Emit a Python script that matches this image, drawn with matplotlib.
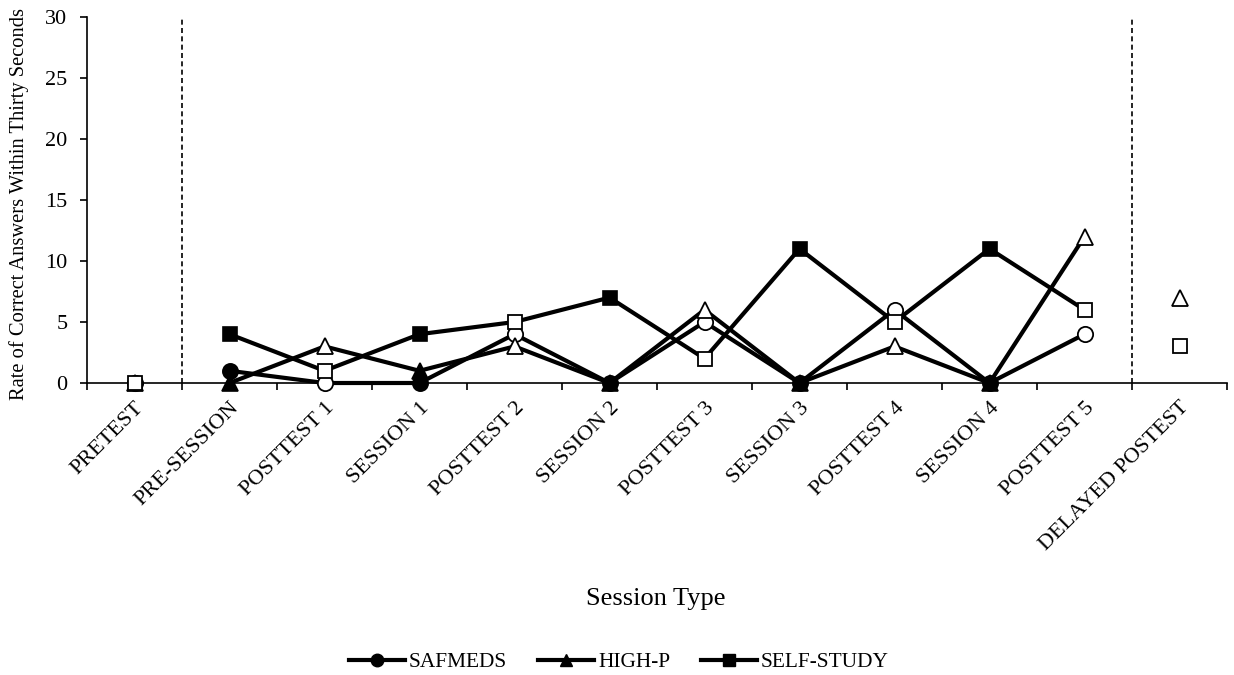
import numpy as np
import matplotlib.pyplot as plt
from matplotlib.lines import Line2D

plt.rcParams['font.family'] = ['Liberation Serif', 'DejaVu Serif']

categories = ["PRETEST", "PRE-SESSION", "POSTTEST 1", "SESSION 1", "POSTTEST 2",
              "SESSION 2", "POSTTEST 3", "SESSION 3", "POSTTEST 4", "SESSION 4",
              "POSTTEST 5", "DELAYED POSTEST"]
safmeds = [0, 1, 0, 0, 4, 0, 5, 0, 6, 0, 4, np.nan]
high_p = [0, 0, 3, 1, 3, 0, 6, 0, 3, 0, 12, 7]
self_study = [0, 4, 1, 4, 5, 7, 2, 11, 5, 11, 6, 3]
# filled marker = training session, open marker = test
is_session = [False, True, False, True, False, True, False, True, False, True, False, False]
phase_start, phase_end = 1, 10   # connected phase (between the dashed lines)
series_names = ["SAFMEDS", "HIGH-P", "SELF-STUDY"]

series = [safmeds, high_p, self_study]
markers = ['o', '^', 's']
msizes = [11, 11, 10.5]

W, H = 1234, 675
fig = plt.figure(figsize=(W / 100, H / 100), dpi=100)
ax = fig.add_axes([87 / W, 1 - 383 / H, (1227 - 87) / W, (383 - 17) / H])

x = np.arange(len(categories))
sess = np.array(is_session)
for vals, m, ms in zip(series, markers, msizes):
    v = np.array(vals, dtype=float)
    seg = slice(phase_start, phase_end + 1)
    ax.plot(x[seg], v[seg], color='black', lw=3, zorder=3, clip_on=False)
    ax.plot(x[sess], v[sess], ls='none', marker=m, ms=ms, mfc='black', mec='black',
            mew=1.2, zorder=4, clip_on=False)
    ax.plot(x[~sess], v[~sess], ls='none', marker=m, ms=ms, mfc='white', mec='black',
            mew=1.3, zorder=4, clip_on=False)

for xv in [phase_start - 0.5, phase_end + 0.5]:
    ax.plot([xv, xv], [0, 30], color='black', lw=1.2, ls=(0, (3, 2)), zorder=2)

ax.set_xlim(-0.5, len(categories) - 0.5)
ax.set_ylim(0, 30)
ax.set_yticks(np.arange(0, 31, 5))
ax.set_xticks(x)
ax.set_xticklabels(categories, rotation=45, ha='right', rotation_mode='anchor')
ax.set_xticks(np.arange(-0.5, len(categories), 1), minor=True)
ax.tick_params(axis='x', which='major', length=0, pad=11, labelsize=16)
ax.tick_params(axis='x', which='minor', length=5, width=1.2, direction='out')
ax.tick_params(axis='y', length=5, width=1.2, direction='out', labelsize=16, pad=9)
for s in ['top', 'right']:
    ax.spines[s].set_visible(False)
for s in ['left', 'bottom']:
    ax.spines[s].set_linewidth(1.2)

fig.text(19 / W, 1 - 204 / H, "Rate of Correct Answers Within Thirty Seconds",
         rotation=90, ha='center', va='center', fontsize=14.8)
fig.text(656 / W, 1 - 599 / H, "Session Type", ha='center', va='center', fontsize=19)

handles = [Line2D([], [], color='black', lw=3, marker=m, ms=9, mfc='black', mec='black')
           for m in markers]
fig.legend(handles, series_names, loc='center', bbox_to_anchor=(619 / W, 1 - 662 / H),
           ncol=3, frameon=False, fontsize=15.4, handlelength=2.6, handletextpad=0.2,
           columnspacing=1.45)

fig.savefig('out.png', dpi=100)
